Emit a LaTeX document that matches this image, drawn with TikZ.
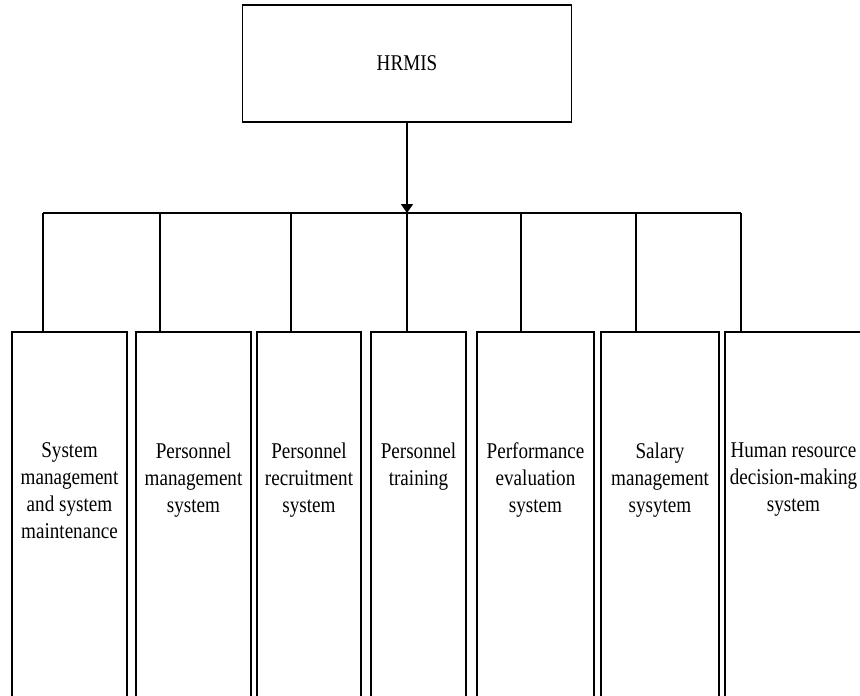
\documentclass[tikz,border=0pt]{standalone}
\usepackage{fontspec}
\setmainfont[FakeStretch=0.85]{Liberation Serif}
\usetikzlibrary{arrows.meta}
\usetikzlibrary{positioning}

\begin{document}
\begin{tikzpicture}[x=1pt,y=-1pt,
  line width=1.8pt,
  sysbox/.style={draw,inner sep=0pt,minimum height=428pt},
  systext/.style={align=center,inner sep=0pt,font=\fontsize{22.5}{27}\selectfont}]
\useasboundingbox (0,0) rectangle (860,696);
\clip (0,0) rectangle (860,696);
% top box
\node[draw,minimum width=329pt,minimum height=117pt,systext] (HRMIS) at (407,63.5) {HRMIS};
% sub-system boxes
\node[sysbox,minimum width=115pt] (sys1) at (69.5,546) {};
\node[sysbox,minimum width=115pt] (sys2) at (193.5,546) {};
\node[sysbox,minimum width=104pt] (sys3) at (309,546) {};
\node[sysbox,minimum width=95pt] (sys4) at (418.5,546) {};
\node[sysbox,minimum width=117pt] (sys5) at (535.5,546) {};
\node[sysbox,minimum width=118pt] (sys6) at (660,546) {};
\node[sysbox,minimum width=137pt] (sys7) at (793.5,546) {};
% texts
\node[systext,anchor=north,below=111pt of sys1.north] (txt1) {System\\management\\and system\\maintenance};
\node[systext,anchor=north,below=111pt of sys2.north] (txt2) {Personnel\\management\\system};
\node[systext,anchor=north,below=111pt of sys3.north] (txt3) {Personnel\\recruitment\\system};
\node[systext,anchor=north,below=111pt of sys4.north] (txt4) {Personnel\\training};
\node[systext,anchor=north,below=111pt of sys5.north] (txt5) {Performance\\evaluation\\system};
\node[systext,anchor=north,below=111pt of sys6.north] (txt6) {Salary\\management\\sysytem};
\node[systext,anchor=north,below=111pt of sys7.north] (txt7) {Human resource\\decision-making\\system};
% bus
\coordinate (d1) at (43,213);
\coordinate (d2) at (160,213);
\coordinate (d3) at (291,213);
\coordinate (d4) at (407,213);
\coordinate (d5) at (521,213);
\coordinate (d6) at (636,213);
\coordinate (d7) at (741,213);
\draw (d1) -- (d7);
\foreach \i in {1,...,7}
  \draw (d\i) -- (d\i |- sys\i.north);
\draw[-{Triangle[length=9pt,width=12pt]}] (HRMIS.south) -- (HRMIS.south |- d4);
\end{tikzpicture}
\end{document}
